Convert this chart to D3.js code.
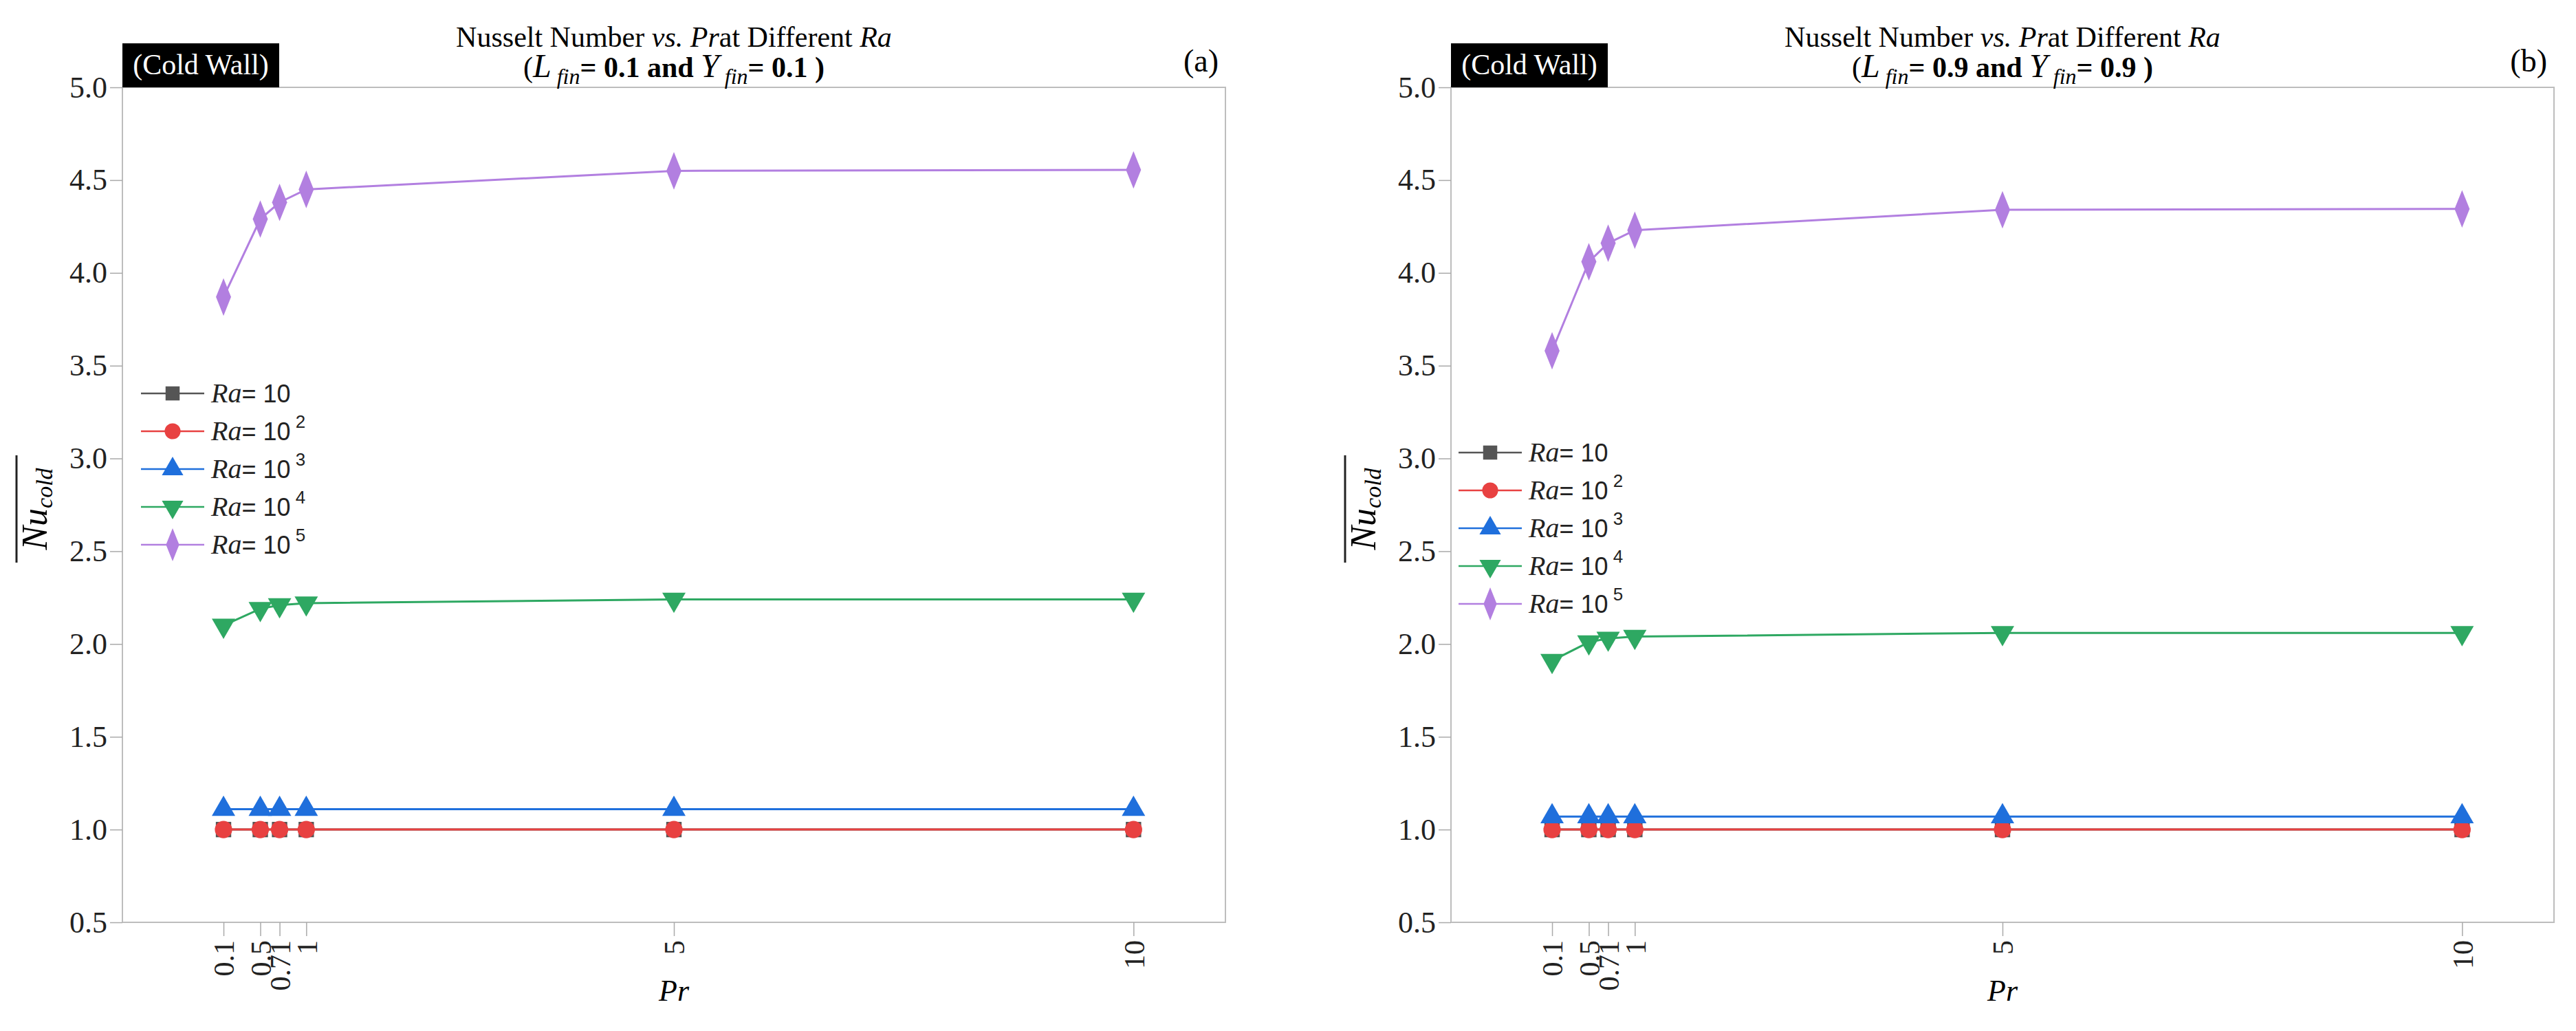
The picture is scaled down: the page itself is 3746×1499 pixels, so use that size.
<!DOCTYPE html>
<html><head><meta charset="utf-8">
<script src="https://cdn.jsdelivr.net/npm/d3@7"></script>
<style>body{margin:0;background:#fff}</style></head>
<body><svg id="c" width="3746" height="1499"></svg>
<script>
const prValues = [0.1, 0.5, 0.71, 1, 5, 10];
const prLabels = ["0.1","0.5","0.71","1","5","10"];
const seriesNames = ["10","10 2","10 3","10 4","10 5"];
const supers = ["", "2", "3", "4", "5"];
const panelA_Ra1 = [1.0,1.0,1.0,1.0,1.0,1.0];
const panelA_Ra2 = [1.0,1.0,1.0,1.0,1.0,1.0];
const panelA_Ra3 = [1.11,1.11,1.11,1.11,1.11,1.11];
const panelA_Ra4 = [2.10,2.19,2.21,2.22,2.24,2.24];
const panelA_Ra5 = [3.87,4.29,4.38,4.45,4.55,4.555];
const panelB_Ra1 = [1.0,1.0,1.0,1.0,1.0,1.0];
const panelB_Ra2 = [1.0,1.0,1.0,1.0,1.0,1.0];
const panelB_Ra3 = [1.07,1.07,1.07,1.07,1.07,1.07];
const panelB_Ra4 = [1.91,2.01,2.03,2.04,2.06,2.06];
const panelB_Ra5 = [3.58,4.06,4.16,4.23,4.34,4.345];
const yTicks = [0.5,1.0,1.5,2.0,2.5,3.0,3.5,4.0,4.5,5.0];
const colors = ["#555555","#e84141","#1f6fdc","#2ea862","#b27fe0"];
const symbols = [d3.symbolSquare, d3.symbolCircle, d3.symbolTriangle, d3.symbolTriangle, d3.symbolDiamond];
const panels = [
  {x0:178, fin:"0.1", tag:"(a)", data:[panelA_Ra1,panelA_Ra2,panelA_Ra3,panelA_Ra4,panelA_Ra5], legX:205, legY:572},
  {x0:2110, fin:"0.9", tag:"(b)", data:[panelB_Ra1,panelB_Ra2,panelB_Ra3,panelB_Ra4,panelB_Ra5], legX:2121, legY:658}
];
const svg = d3.select("#c");
const W = 1604, plotTop = 127, plotBottom = 1341;
const serif = "'Liberation Serif','Times New Roman',serif";
const sans = "'Liberation Sans',Arial,sans-serif";

function sym(g, i, size){
  const p = g.append("path").attr("d", d3.symbol().type(symbols[i]).size(size)()).attr("fill", colors[i]);
  if(i===3) p.attr("transform","rotate(180)");
  if(i===4) p.attr("transform","scale(0.8,1.15)");
  return p;
}

panels.forEach(P=>{
  const x = d3.scaleLinear().domain([-1,11]).range([P.x0, P.x0+W]);
  const y = d3.scaleLinear().domain([0.5,5]).range([plotBottom, plotTop]);
  const g = svg.append("g");
  g.append("rect").attr("x",P.x0).attr("y",plotTop).attr("width",W).attr("height",plotBottom-plotTop)
    .attr("fill","none").attr("stroke","#bdbdbd").attr("stroke-width",2);
  const ya = g.append("g").attr("transform",`translate(${P.x0},0)`)
    .call(d3.axisLeft(y).tickValues(yTicks).tickFormat(d3.format(".1f")).tickSize(18).tickPadding(4));
  ya.select(".domain").remove();
  ya.selectAll("line").attr("stroke","#aaa").attr("stroke-width",1.5);
  ya.selectAll("text").attr("font-family",serif).attr("font-size",44).attr("fill","#222");
  const xa = g.append("g").attr("transform",`translate(0,${plotBottom})`)
    .call(d3.axisBottom(x).tickValues(prValues).tickFormat((d,i)=>prLabels[i]).tickSize(20).tickPadding(0));
  xa.select(".domain").remove();
  xa.selectAll("line").attr("stroke","#aaa").attr("stroke-width",1.5);
  xa.selectAll("text").attr("font-family",serif).attr("font-size",42).attr("fill","#222")
    .attr("text-anchor","end").attr("y",0).attr("dy","0.35em")
    .attr("transform","translate(0,26) rotate(-90)");
  g.append("text").attr("x",x(5)).attr("y",1455).attr("text-anchor","middle")
    .attr("font-family",serif).attr("font-style","italic").attr("font-size",44).text("Pr");
  const yl = g.append("g").attr("transform",`translate(${P.x0-110},740) rotate(-90)`);
  const ylt = yl.append("text").attr("text-anchor","middle").attr("font-family",serif).attr("font-style","italic").attr("font-size",52);
  ylt.append("tspan").text("Nu");
  ylt.append("tspan").attr("font-size",34).attr("dy",8).text("cold");
  yl.append("line").attr("x1",-78).attr("x2",78).attr("y1",-44).attr("y2",-44).attr("stroke","#222").attr("stroke-width",3);
  const cx = P.x0 + W/2;
  const t1 = g.append("text").attr("x",cx).attr("y",68).attr("text-anchor","middle").attr("font-family",serif).attr("font-size",42);
  t1.append("tspan").text("Nusselt Number ");
  t1.append("tspan").attr("font-style","italic").text("vs. Pr");
  t1.append("tspan").text("at Different  ");
  t1.append("tspan").attr("font-style","italic").text("Ra");
  const t2 = g.append("text").attr("x",cx).attr("y",112).attr("text-anchor","middle").attr("font-family",serif).attr("font-size",42);
  t2.append("tspan").text("(");
  t2.append("tspan").attr("font-style","italic").attr("font-size",48).text("L");
  t2.append("tspan").attr("font-style","italic").attr("font-size",32).attr("dy",10).text(" fin");
  t2.append("tspan").attr("font-weight","bold").attr("dy",-10).text("= "+P.fin+" and  ");
  t2.append("tspan").attr("font-style","italic").attr("font-size",48).text("Y");
  t2.append("tspan").attr("font-style","italic").attr("font-size",32).attr("dy",10).text(" fin");
  t2.append("tspan").attr("font-weight","bold").attr("dy",-10).text("= "+P.fin+" )");
  g.append("text").attr("x",P.x0+W-10).attr("y",104).attr("text-anchor","end").attr("font-family",serif).attr("font-size",46).text(P.tag);
  g.append("rect").attr("x",P.x0).attr("y",63).attr("width",228).attr("height",64).attr("fill","#000");
  g.append("text").attr("x",P.x0+114).attr("y",108).attr("text-anchor","middle").attr("font-family",serif).attr("font-size",42).attr("fill","#fff").text("(Cold Wall)");
  const line = d3.line().x((d,i)=>x(prValues[i])).y(d=>y(d));
  P.data.forEach((vals,i)=>{
    g.append("path").datum(vals).attr("d",line).attr("fill","none").attr("stroke",colors[i]).attr("stroke-width",3);
    vals.forEach((v,j)=>{
      const mg = g.append("g").attr("transform",`translate(${x(prValues[j])},${y(v)})`);
      sym(mg,i, i===4?650:500);
    });
  });
  seriesNames.forEach((n,i)=>{
    const ly = P.legY + i*55;
    const lg = g.append("g");
    lg.append("line").attr("x1",P.legX).attr("x2",P.legX+92).attr("y1",ly).attr("y2",ly).attr("stroke",colors[i]).attr("stroke-width",2.5);
    const mg = lg.append("g").attr("transform",`translate(${P.legX+46},${ly})`);
    sym(mg,i,i===4?500:420);
    const tx = lg.append("text").attr("x",P.legX+102).attr("y",ly+13).attr("font-size",36).attr("fill","#222");
    tx.append("tspan").attr("font-family",serif).attr("font-style","italic").attr("font-size",40).text("Ra");
    tx.append("tspan").attr("font-family",sans).text("= 10");
    if(supers[i]) tx.append("tspan").attr("font-family",sans).attr("font-size",26).attr("dy",-18).text(" "+supers[i]);
  });
});
</script></body></html>
